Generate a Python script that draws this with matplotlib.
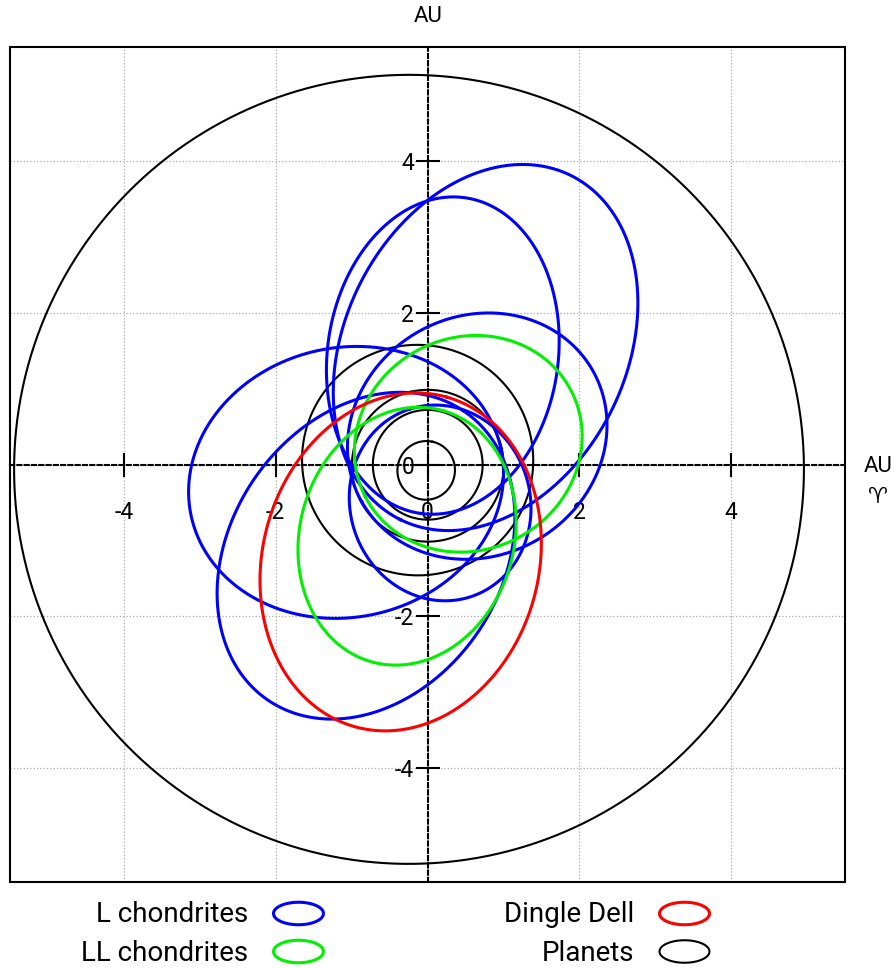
import numpy as np
import matplotlib.pyplot as plt
from matplotlib.path import Path
from matplotlib.lines import Line2D
from matplotlib.patches import Rectangle

plt.rcParams['font.family'] = ['Roboto', 'DejaVu Sans']
plt.rcParams['axes.unicode_minus'] = False

# orbits projected on the ecliptic: semi-major axis (AU), eccentricity,
# longitude of perihelion (deg)
l_a = [2.53, 2.30, 1.75, 2.088, 2.10, 1.30]
l_e = [0.680, 0.630, 0.431, 0.526, 0.69, 0.41]
l_peri = [243.6, 56.0, 209.7, 12.4, 262.0, 108.2]

ll_a = [1.72, 1.525]
ll_e = [0.571, 0.395]
ll_peri = [74.1, 206.9]

dd_a = [2.254]
dd_e = [0.5904]
dd_peri = [74.6]

planet_a = [0.387, 0.723, 1.0, 1.524, 5.203]
planet_e = [0.2056, 0.0068, 0.0167, 0.0934, 0.0484]
planet_peri = [77.5, 131.6, 102.9, 336.0, 14.7]

ticks = [-4, -2, 0, 2, 4]
labels = ['L chondrites', 'LL chondrites', 'Dingle Dell', 'Planets']


def orbit(a, e, peri):
    nu = np.linspace(0, 2 * np.pi, 721)
    r = a * (1 - e ** 2) / (1 + e * np.cos(nu))
    th = nu + np.radians(peri)
    return r * np.cos(th), r * np.sin(th)


fig = plt.figure(figsize=(8.96, 9.68), dpi=100)
ax = fig.add_axes([10 / 896, 86 / 968, 835 / 896, 835 / 968])

for a, e, p in zip(planet_a, planet_e, planet_peri):
    x, y = orbit(a, e, p)
    ax.plot(x, y, color='black', lw=1.5, zorder=3)
for a, e, p in zip(l_a, l_e, l_peri):
    x, y = orbit(a, e, p)
    ax.plot(x, y, color='#0000ff', lw=2.2, zorder=3)
for a, e, p in zip(ll_a, ll_e, ll_peri):
    x, y = orbit(a, e, p)
    ax.plot(x, y, color='#00f000', lw=2.2, zorder=3)
for a, e, p in zip(dd_a, dd_e, dd_peri):
    x, y = orbit(a, e, p)
    ax.plot(x, y, color='#ff0000', lw=2.2, zorder=3)

ax.set_xlim(-5.5, 5.5)
ax.set_ylim(-5.5, 5.5)
ax.set_aspect('equal')

# axes through the origin, dashed
for s in ['left', 'bottom']:
    ax.spines[s].set_position('zero')
    ax.spines[s].set_linestyle((0, (2, 1.5)))
    ax.spines[s].set_linewidth(1.5)
for s in ['top', 'right']:
    ax.spines[s].set_visible(False)
ax.add_patch(Rectangle((0, 0), 1, 1, transform=ax.transAxes, fill=False,
                       lw=1.5, color='black', zorder=5, clip_on=False))

ax.set_xticks(ticks)
ax.set_yticks(ticks)
ax.tick_params(direction='inout', length=17, width=1.5, labelsize=16.5)
ax.tick_params(axis='x', pad=18)
ax.tick_params(axis='y', pad=1)
ax.grid(True, color='#aaaaaa', linestyle=':', lw=0.9, zorder=0)

fig.text(428 / 896, 1 - 16 / 968, 'AU', ha='center', va='center', fontsize=16)
fig.text(878 / 896, 1 - 467 / 968, 'AU', ha='center', va='center', fontsize=16)
fig.text(878 / 896, 1 - 497 / 968, '\u2648', ha='center', va='center', fontsize=16)

# legend with elliptical markers
t = np.linspace(0, 2 * np.pi, 60)
ell = Path(np.column_stack([np.cos(t), 0.45 * np.sin(t)]))
handles = [Line2D([], [], ls='none', marker=ell, markersize=36, mfc='none',
                  mec=c, mew=2.2)
           for c in ['#0000ff', '#00f000', '#ff0000', 'black']]
handles[3].set_markeredgewidth(1.5)
fig.legend(handles, labels, ncol=2, markerfirst=False, frameon=False,
           fontsize=20, loc='center', bbox_to_anchor=(0.4425, 1 - 934 / 968),
           handlelength=2.0, handletextpad=0.8, columnspacing=6.4,
           labelspacing=0.4, borderpad=0)

fig.savefig('out.png', dpi=100)
